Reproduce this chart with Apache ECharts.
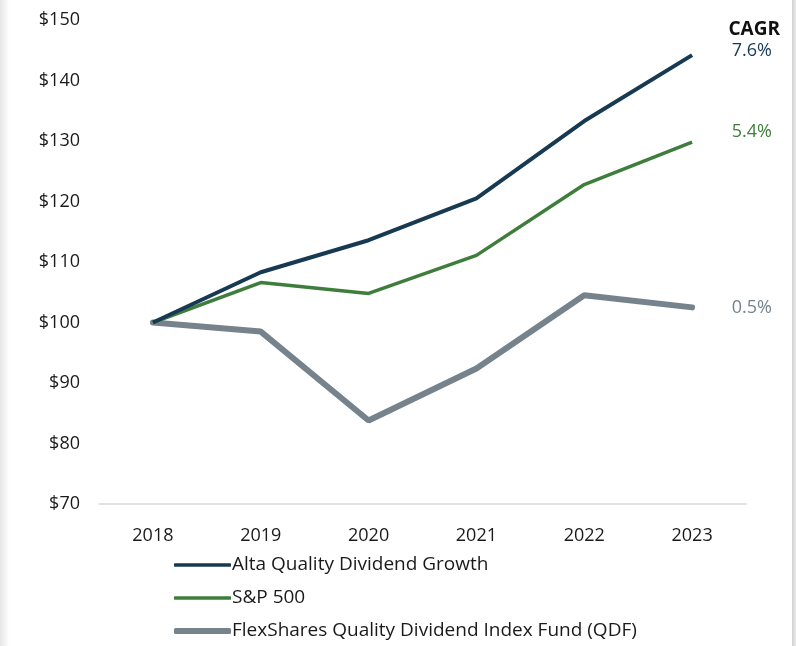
<!DOCTYPE html>
<html>
<head>
<meta charset="utf-8">
<script src="https://cdn.jsdelivr.net/npm/echarts@6/dist/echarts.min.js"></script>
<style>
html,body{margin:0;padding:0;background:#fff;}
#wrap{position:relative;width:796px;height:646px;overflow:hidden;}
#lshadow{position:absolute;left:0;top:0;width:9px;height:646px;background:linear-gradient(to right,#e6e6e6,#f6f6f6 70%,#ffffff);}
#rborder{position:absolute;left:792px;top:0;width:4px;height:646px;background:linear-gradient(to right,#d0d0d0,#ececec);}
#main{position:absolute;left:0;top:0;width:796px;height:646px;}
</style>
</head>
<body>
<div id="wrap">
<div id="lshadow"></div>
<div id="rborder"></div>
<div id="main"></div>
</div>
<script>
const years = ['2018','2019','2020','2021','2022','2023'];
const alta = [100, 108.3, 113.6, 120.5, 133.3, 144.2];
const sp500 = [100, 106.6, 104.8, 111.1, 122.8, 129.8];
const qdf = [100, 98.5, 83.8, 92.4, 104.5, 102.5];
const seriesNames = ['Alta Quality Dividend Growth', 'S&P 500', 'FlexShares Quality Dividend Index Fund (QDF)'];
const cagrLabels = ['7.6%', '5.4%', '0.5%'];
const colors = ['#173a52', '#3f7d3c', '#76838c'];
const font = '"Open Sans", "Noto Sans", sans-serif';

const legendCenters = [565, 598, 631];
const legendThick = [3.5, 3.5, 6];
const legends = seriesNames.map((n, i) => ({
  orient: 'horizontal',
  left: 174, top: legendCenters[i] - 13,
  padding: 0,
  itemWidth: 57, itemHeight: legendThick[i],
  icon: 'roundRect',
  textStyle: {color: '#1a1a1a', fontSize: 19, fontFamily: font, lineHeight: 26, padding: [0,0,0,-4]},
  itemGap: 0,
  data: [n]
}));

const chart = echarts.init(document.getElementById('main'), null, {renderer: 'canvas'});
chart.setOption({
  animation: false,
  backgroundColor: 'transparent',
  grid: {left: 99, right: 50, top: 20, bottom: 142},
  xAxis: {
    type: 'category',
    data: years,
    boundaryGap: true,
    axisLine: {show: true, lineStyle: {color: '#d9d9d9', width: 1.5}},
    axisTick: {show: false},
    axisLabel: {color: '#1a1a1a', fontSize: 18, fontFamily: font, margin: 23}
  },
  yAxis: {
    type: 'value',
    min: 70, max: 150, interval: 10,
    axisLine: {show: false},
    axisTick: {show: false},
    splitLine: {show: false},
    axisLabel: {color: '#1a1a1a', fontSize: 18, fontFamily: font, margin: 19, formatter: v => '$' + v}
  },
  legend: legends,
  series: [
    {name: seriesNames[0], type: 'line', data: alta, symbol: 'none', lineStyle: {color: colors[0], width: 4}, itemStyle: {color: colors[0]}, z: 3},
    {name: seriesNames[1], type: 'line', data: sp500, symbol: 'none', lineStyle: {color: colors[1], width: 3.5}, itemStyle: {color: colors[1]}, z: 2},
    {name: seriesNames[2], type: 'line', data: qdf, symbol: 'none', lineStyle: {color: colors[2], width: 6, cap: 'round'}, itemStyle: {color: colors[2]}, z: 1}
  ],
  graphic: [
    {type: 'text', right: 16, top: 20, style: {text: 'CAGR', fill: '#111', font: 'bold 19px ' + font}},
    {type: 'text', right: 24, top: 42, style: {text: cagrLabels[0], fill: colors[0], font: '18px ' + font}},
    {type: 'text', right: 24, top: 123, style: {text: cagrLabels[1], fill: colors[1], font: '18px ' + font}},
    {type: 'text', right: 24, top: 299, style: {text: cagrLabels[2], fill: colors[2], font: '18px ' + font}}
  ]
});
</script>
</body>
</html>
